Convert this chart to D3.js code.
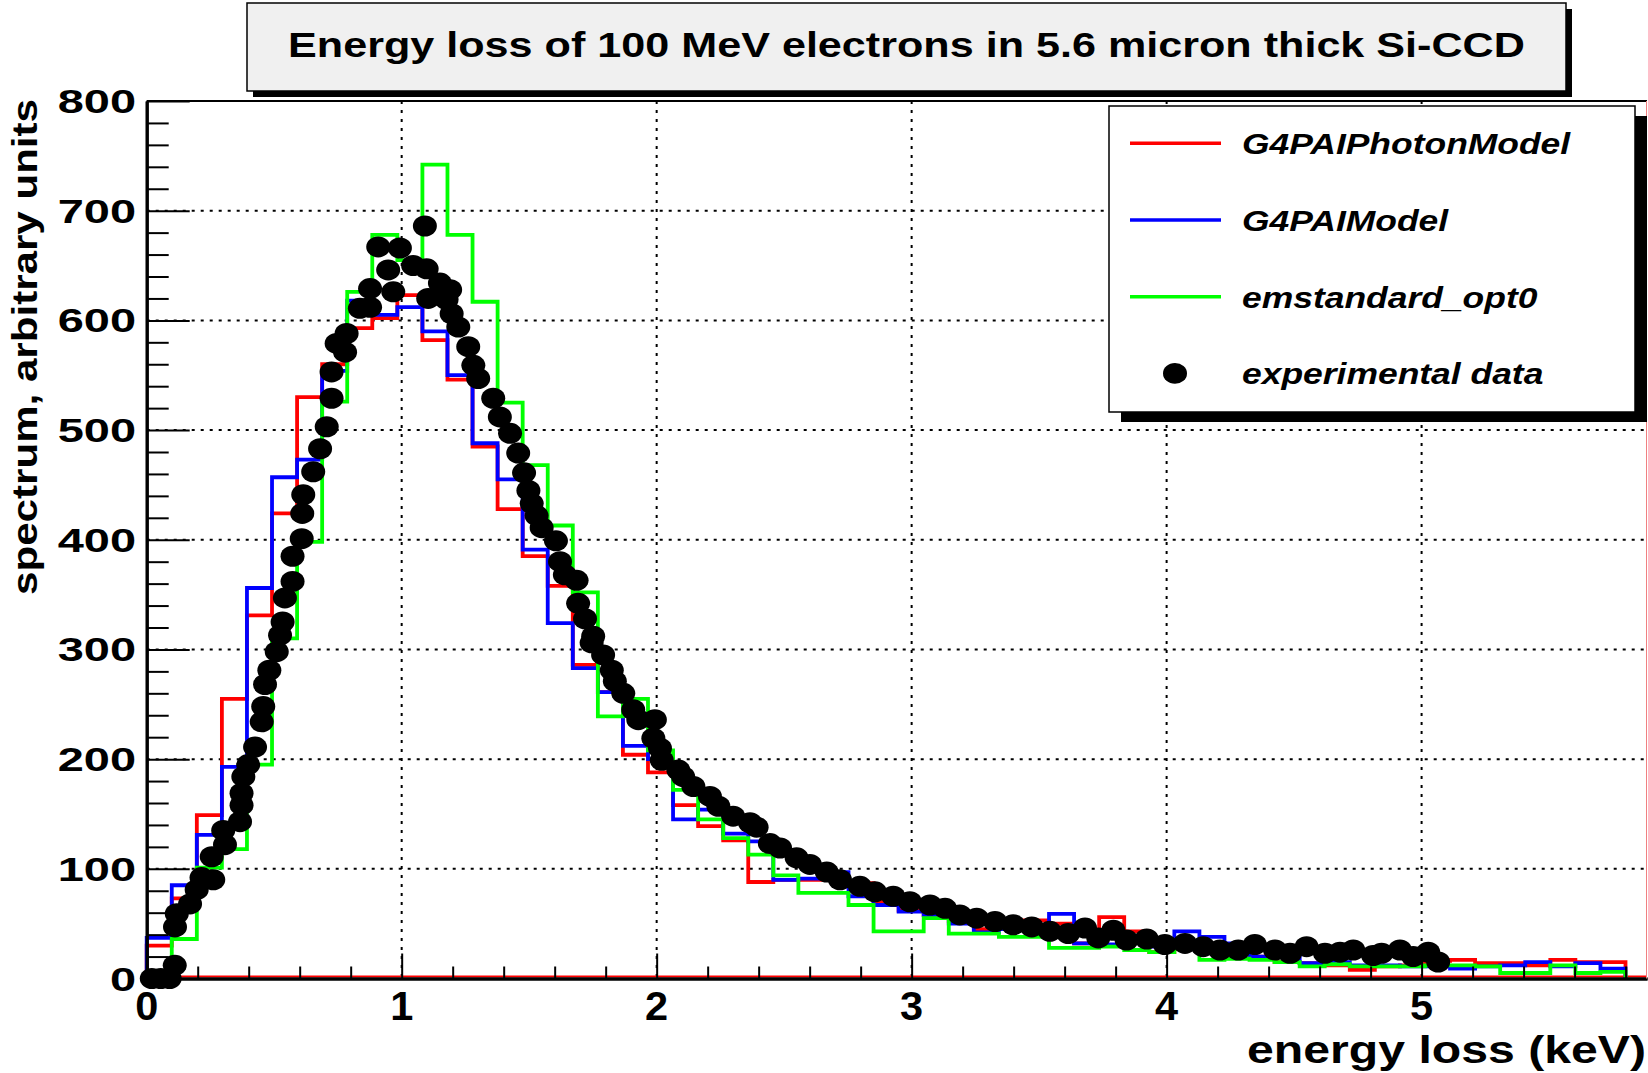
<!DOCTYPE html>
<html>
<head>
<meta charset="utf-8">
<script src="https://cdn.jsdelivr.net/npm/d3@7"></script>
<style>
  html, body { margin: 0; padding: 0; background: #fff; }
  svg { display: block; font-family: "Liberation Sans", Arial, sans-serif; font-weight: bold; }
</style>
</head>
<body>
<div id="chart"></div>
<script>
/* global d3 */
// Data
const binWidth = 0.0983; // keV
const redCounts = [30, 73, 149, 255, 331, 424, 530, 560, 593, 602, 623, 582, 546, 485, 428, 385, 358, 286, 261, 204,
  188, 158, 139, 126, 88, 90, 90, 90, 87, 70, 62, 58, 52, 45, 53, 53, 50, 32, 56, 43,
  24, 29, 30, 25, 20, 15, 14, 12, 8, 11, 12, 16, 17, 14, 14, 12, 17, 15, 15];
const blueCounts = [37, 85, 131, 193, 356, 457, 473, 554, 618, 605, 612, 590, 550, 488, 455, 391, 324, 283, 261, 212,
  200, 145, 154, 132, 125, 90, 91, 97, 75, 67, 61, 58, 50, 42, 45, 48, 59, 32, 31, 38,
  29, 43, 38, 32, 20, 20, 14, 15, 12, 12, 11, 11, 9, 11, 12, 15, 11, 14, 9];
const greenCounts = [0, 36, 101, 118, 195, 310, 398, 526, 626, 678, 655, 742, 678, 617, 525, 468, 413, 352, 239, 255,
  208, 172, 145, 128, 113, 94, 78, 78, 67, 43, 43, 55, 41, 41, 38, 38, 28, 28, 29, 26,
  24, 27, 17, 18, 17, 15, 11, 13, 11, 11, 11, 12, 12, 11, 5, 5, 12, 5, 6];
const expEnergy = [0.02, 0.055, 0.09, 0.11, 0.111, 0.118, 0.17, 0.196, 0.215, 0.261, 0.255, 0.307, 0.30, 0.366, 0.372,
  0.372, 0.379, 0.398, 0.425, 0.451, 0.457, 0.464, 0.481, 0.51, 0.523, 0.533, 0.542, 0.572, 0.572, 0.608,
  0.61, 0.614, 0.653, 0.68, 0.706, 0.725, 0.725, 0.745, 0.778, 0.784, 0.836, 0.876, 0.876, 0.908, 0.947,
  0.967, 0.993, 1.045, 1.091, 1.098, 1.104, 1.15, 1.176, 1.19, 1.196, 1.222, 1.261, 1.281, 1.30, 1.359,
  1.385, 1.425, 1.457, 1.48, 1.497, 1.51, 1.529, 1.549, 1.605, 1.621, 1.64, 1.686, 1.692, 1.719, 1.745,
  1.751, 1.79, 1.824, 1.836, 1.869, 1.908, 1.928, 1.987, 1.993, 2.013, 2.02, 2.085, 2.104, 2.144, 2.209,
  2.242, 2.30, 2.366, 2.392, 2.444, 2.484, 2.549, 2.601, 2.667, 2.719, 2.797, 2.856, 2.928, 2.993, 3.072,
  3.131, 3.189, 3.255, 3.327, 3.398, 3.471, 3.542, 3.614, 3.68, 3.732, 3.791, 3.843, 3.922, 3.993, 4.072,
  4.143, 4.209, 4.281, 4.346, 4.425, 4.484, 4.549, 4.621, 4.68, 4.732, 4.81, 4.843, 4.915, 4.967, 5.026, 5.065];
const expCounts = [0, 0, 0, 12, 47, 59, 68, 81, 92, 90, 111, 122, 135, 143, 158,
  169, 184, 195, 211, 234, 248, 268, 281, 298, 313, 325, 347, 362, 385, 401,
  424, 441, 462, 483, 503, 529, 553, 579, 571, 588, 611, 612, 629, 667, 646,
  626, 666, 650, 686, 647, 620, 634, 619, 628, 606, 594, 576, 559, 547, 529,
  512, 497, 479, 461, 445, 433, 422, 411, 399, 380, 368, 363, 342, 328, 306,
  312, 295, 281, 271, 260, 245, 236, 219, 236, 210, 199, 190, 184, 175, 166,
  157, 148, 142, 138, 123, 119, 110, 104, 97, 90, 84, 79, 75, 70, 67,
  64, 58, 55, 52, 49, 47, 43, 41, 46, 37, 44, 35, 36, 31, 32,
  29, 26, 26, 31, 26, 23, 29, 23, 24, 26, 21, 23, 26, 20, 24, 15];
const xTickValues = [0, 1, 2, 3, 4, 5];
const xMinorValues = d3.range(1, 30).filter(i => i % 5 !== 0).map(i => i * 0.2);
const yTickValues = [0, 100, 200, 300, 400, 500, 600, 700, 800];
const yMinorValues = d3.range(0, 41).filter(i => i % 5 !== 0).map(i => i * 20);
const seriesNames = ['G4PAIPhotonModel', 'G4PAIModel', 'emstandard_opt0', 'experimental data'];
const seriesColors = ['#ff0000', '#0000ff', '#00ff00', '#000000'];
const titleText = 'Energy loss of 100 MeV electrons in 5.6 micron thick Si-CCD';
const xTitle = 'energy loss (keV)';
const yTitle = 'spectrum, arbitrary units';

// Layout
const W = 1648, H = 1073;
const frame = { left: 146.7, right: 1647, top: 101, bottom: 978.5 };

const svg = d3.select('#chart').append('svg').attr('width', W).attr('height', H);

const x = d3.scaleLinear().domain([0, 5.884]).range([frame.left, frame.right]);
const y = d3.scaleLinear().domain([0, 800]).range([frame.bottom, frame.top]);

// stretched text helper (the original fonts are wider than Liberation Sans)
const addText = (parent, { px, py, text, size, sx = 1, anchor = 'start', italic = false, rotate = 0 }) =>
  parent.append('text')
    .attr('transform', `translate(${px},${py}) rotate(${rotate}) scale(${sx},1)`)
    .attr('text-anchor', anchor)
    .style('font-size', `${size}px`)
    .style('font-style', italic ? 'italic' : 'normal')
    .attr('fill', '#000')
    .text(text);

// Grid
const grid = svg.append('g')
  .attr('stroke', '#000').attr('stroke-width', 2).attr('stroke-dasharray', '3,6');
grid.selectAll('line.gx')
  .data(xTickValues.filter(v => v > 0))
  .enter().append('line')
  .attr('x1', d => x(d)).attr('x2', d => x(d))
  .attr('y1', frame.top).attr('y2', frame.bottom);
grid.selectAll('line.gy')
  .data(yTickValues.filter(v => v > 0 && v < 800))
  .enter().append('line')
  .attr('y1', d => y(d)).attr('y2', d => y(d))
  .attr('x1', frame.left).attr('x2', frame.right);

// Histograms
const step = d3.line().x(d => x(d[0])).y(d => y(d[1])).curve(d3.curveStepAfter);
const histPoints = counts => [[0, 0]]
  .concat(counts.map((c, i) => [i * binWidth, c]))
  .concat([[counts.length * binWidth, 0]]);

// red zero line along the axis
svg.append('line')
  .attr('x1', frame.left).attr('x2', frame.right)
  .attr('y1', frame.bottom - 2).attr('y2', frame.bottom - 2)
  .attr('stroke', '#ff0000').attr('stroke-width', 2);

[redCounts, blueCounts, greenCounts].forEach((counts, i) => {
  svg.append('path')
    .attr('d', step(histPoints(counts)))
    .attr('fill', 'none')
    .attr('stroke', seriesColors[i])
    .attr('stroke-width', 3.8)
    .attr('stroke-linejoin', 'miter');
});

// Experimental points
svg.append('g').selectAll('ellipse')
  .data(d3.zip(expEnergy, expCounts))
  .enter().append('ellipse')
  .attr('cx', d => x(d[0]))
  .attr('cy', d => y(d[1]))
  .attr('rx', 12).attr('ry', 10.5)
  .attr('fill', '#000');

// Axes
const styleAxis = (g, width) => {
  g.selectAll('.tick line').attr('stroke', '#000').attr('stroke-width', width);
  g.select('.domain').attr('stroke', '#000').attr('stroke-width', 3);
};
svg.append('g').attr('transform', `translate(${frame.left},0)`)
  .call(d3.axisLeft(y).tickValues(yTickValues).tickSize(-43).tickSizeOuter(0).tickFormat(''))
  .call(g => styleAxis(g, 2));
svg.append('g').attr('transform', `translate(${frame.left},0)`)
  .call(d3.axisLeft(y).tickValues(yMinorValues).tickSize(-22).tickSizeOuter(0).tickFormat(''))
  .call(g => styleAxis(g, 2));
svg.append('g').attr('transform', `translate(0,${frame.bottom})`)
  .call(d3.axisBottom(x).tickValues(xTickValues).tickSize(-25).tickSizeOuter(0).tickFormat(''))
  .call(g => styleAxis(g, 2));
svg.append('g').attr('transform', `translate(0,${frame.bottom})`)
  .call(d3.axisBottom(x).tickValues(xMinorValues).tickSize(-12).tickSizeOuter(0).tickFormat(''))
  .call(g => styleAxis(g, 2));

// top and right frame edges
svg.append('line')
  .attr('x1', frame.left).attr('x2', frame.right)
  .attr('y1', frame.top).attr('y2', frame.top)
  .attr('stroke', '#000').attr('stroke-width', 2);
svg.append('line')
  .attr('x1', frame.right - 0.5).attr('x2', frame.right - 0.5)
  .attr('y1', frame.top).attr('y2', frame.bottom)
  .attr('stroke', '#f08080').attr('stroke-width', 1);

// Tick labels
const labels = svg.append('g');
yTickValues.forEach(v => addText(labels, { px: 136, py: y(v) + 12, text: String(v), size: 34, sx: 1.38, anchor: 'end' }));
xTickValues.forEach(v => addText(labels, { px: x(v), py: 1020, text: String(v), size: 41.5, anchor: 'middle' }));

// Axis titles
addText(svg, { px: 1646, py: 1063, text: xTitle, size: 39.5, sx: 1.22, anchor: 'end' });
addText(svg, { px: 36.5, py: 99, text: yTitle, size: 36, sx: 1.17, anchor: 'end', rotate: -90 });

// Title box
const titleBox = { x0: 247, y0: 3, x1: 1566, y1: 91 };
svg.append('rect')
  .attr('x', titleBox.x0 + 6).attr('y', titleBox.y0 + 6)
  .attr('width', titleBox.x1 - titleBox.x0).attr('height', titleBox.y1 - titleBox.y0)
  .attr('fill', '#000');
svg.append('rect')
  .attr('x', titleBox.x0).attr('y', titleBox.y0)
  .attr('width', titleBox.x1 - titleBox.x0).attr('height', titleBox.y1 - titleBox.y0)
  .attr('fill', '#f0f0f0').attr('stroke', '#000').attr('stroke-width', 1.5);
addText(svg, { px: (titleBox.x0 + titleBox.x1) / 2, py: 57, text: titleText, size: 35.5, sx: 1.215, anchor: 'middle' });

// Legend
const legendBox = { x0: 1109, y0: 106, x1: 1635, y1: 412 };
svg.append('rect')
  .attr('x', legendBox.x0 + 12).attr('y', legendBox.y0 + 10)
  .attr('width', legendBox.x1 - legendBox.x0).attr('height', legendBox.y1 - legendBox.y0)
  .attr('fill', '#000');
svg.append('rect')
  .attr('x', legendBox.x0).attr('y', legendBox.y0)
  .attr('width', legendBox.x1 - legendBox.x0).attr('height', legendBox.y1 - legendBox.y0)
  .attr('fill', '#fff').attr('stroke', '#000').attr('stroke-width', 1.5);

const legend = svg.append('g');
seriesNames.forEach((name, i) => {
  const cy = 143.3 + i * 76.7;
  if (i < 3) {
    legend.append('line')
      .attr('x1', 1130).attr('x2', 1221)
      .attr('y1', cy).attr('y2', cy)
      .attr('stroke', seriesColors[i]).attr('stroke-width', 3.5);
  } else {
    legend.append('ellipse')
      .attr('cx', 1175).attr('cy', cy)
      .attr('rx', 12).attr('ry', 10.3)
      .attr('fill', seriesColors[i]);
  }
  addText(legend, { px: 1242, py: cy + 11, text: name, size: 30.3, sx: 1.17, italic: true });
});
</script>
</body>
</html>
